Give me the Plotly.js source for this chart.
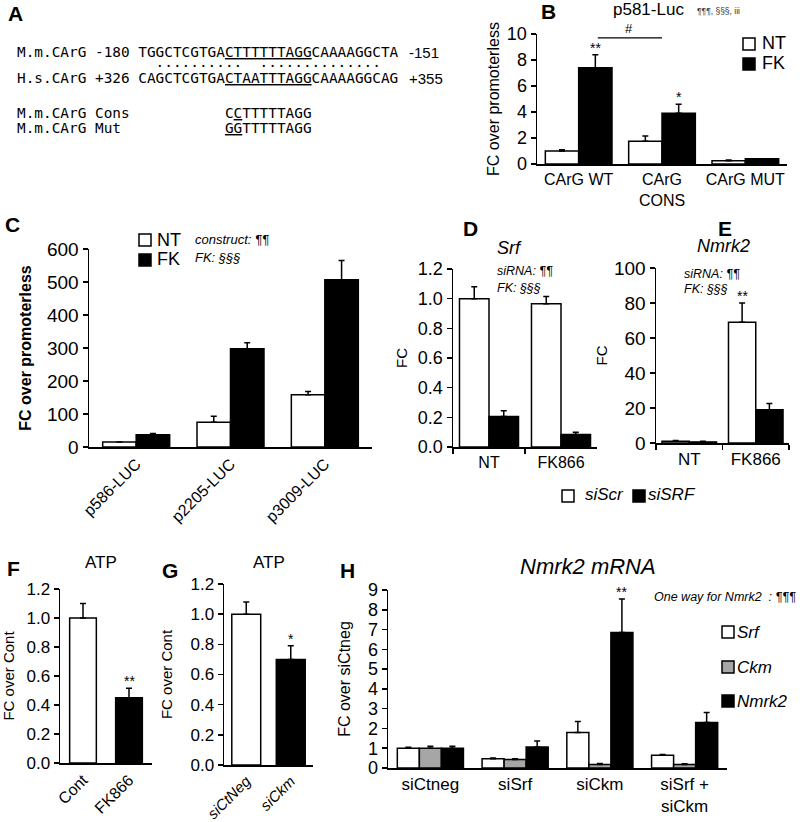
<!DOCTYPE html>
<html><head><meta charset="utf-8">
<script src="https://cdn.plot.ly/plotly-3.0.1.min.js"></script>
<style>html,body{margin:0;padding:0;background:#fff}</style>
</head><body><div id="chart" style="width:800px;height:822px"></div>
<script>
// ---------------- data ----------------
const bCats = ['CArG WT', 'CArG<br>CONS', 'CArG MUT'];
const bNT = [1.0, 1.75, 0.25];
const bNTerr = [0.1, 0.4, 0.05];
const bFK = [7.4, 3.9, 0.4];
const bFKerr = [1.0, 0.7, 0.0];

const cCats = ['p586-LUC', 'p2205-LUC', 'p3009-LUC'];
const cNT = [15, 75, 158];
const cNTerr = [0, 18, 10];
const cFK = [37, 298, 507];
const cFKerr = [4, 18, 58];

const dCats = ['NT', 'FK866'];
const dScr = [1.0, 0.965];
const dScrErr = [0.08, 0.05];
const dSRF = [0.205, 0.085];
const dSRFerr = [0.04, 0.015];

const eCats = ['NT', 'FK866'];
const eScr = [1.0, 69];
const eScrErr = [0.4, 11];
const eSRF = [0.6, 19];
const eSRFerr = [0.4, 3.5];

const fCats = ['Cont', 'FK866'];
const fVals = [1.0, 0.45];
const fErr = [0.1, 0.065];

const gCats = ['siCtNeg', 'siCkm'];
const gVals = [1.0, 0.70];
const gErr = [0.08, 0.09];

const hCats = ['siCtneg', 'siSrf', 'siCkm', 'siSrf +<br>siCkm'];
const hSrf = [1.0, 0.47, 1.8, 0.65];
const hSrfErr = [0.05, 0.04, 0.55, 0.03];
const hCkm = [1.0, 0.43, 0.18, 0.18];
const hCkmErr = [0.1, 0.04, 0.05, 0.04];
const hNmrk2 = [1.0, 1.06, 6.85, 2.3];
const hNmrk2Err = [0.1, 0.3, 1.7, 0.5];

// ---------------- helpers ----------------
const FONT = 'Liberation Sans, Arial, Helvetica, sans-serif';
const MONO = 'DejaVu Sans Mono, monospace';
const W = 800, H = 822;
const px = x => x / W;
const py = y => 1 - y / H;
const sp = n => '\u00A0'.repeat(n);

function bar(xa, ya, cats, vals, errs, name, fill, offset, width) {
  return {
    type: 'bar', xaxis: xa, yaxis: ya, x: cats, y: vals, name: name,
    offset: offset, width: width, showlegend: false,
    marker: {color: fill, line: {color: '#000', width: 1.5}},
    error_y: {type: 'data', symmetric: false, array: errs, arrayminus: errs.map(() => 0),
              color: '#000', thickness: 1.5, width: 3}
  };
}

const tf = s => ({family: FONT, size: s, color: '#000'});
function xax(x0, x1, anchor, n, fs, extra) {
  return Object.assign({
    domain: [px(x0), px(x1)], anchor: anchor, type: 'category', range: [-0.5, n - 0.5],
    showline: true, linecolor: '#000', linewidth: 1.5, showgrid: false, zeroline: false,
    ticks: '', tickfont: tf(fs), fixedrange: true
  }, extra || {});
}
function yax(yTop, yBot, anchor, range, dtick, fs, title, tsize, standoff, extra) {
  return Object.assign({
    domain: [py(yBot), py(yTop)], anchor: anchor, range: range, dtick: dtick,
    showline: true, linecolor: '#000', linewidth: 1.5, showgrid: false, zeroline: false,
    ticks: 'outside', ticklen: 5, tickwidth: 1.5, tickcolor: '#000', tickfont: tf(fs),
    title: {text: title, font: tf(tsize), standoff: standoff},
    fixedrange: true
  }, extra || {});
}
function note(text, x, y, size, opts) {
  return Object.assign({
    text: text, x: px(x), y: py(y), xref: 'paper', yref: 'paper', showarrow: false,
    xanchor: 'center', yanchor: 'middle', font: tf(size)
  }, opts || {});
}
function star(text, xa, ya, x, y) {
  return {text: text, x: x, y: y, xref: xa, yref: ya, showarrow: false, xanchor: 'center',
          yanchor: 'bottom', yshift: -3, font: tf(14)};
}
// legend key square + label (drawn in paper space)
function key(x0, yc, fill) {
  return {type: 'rect', xref: 'paper', yref: 'paper', x0: px(x0), x1: px(x0 + 12),
          y0: py(yc + 6), y1: py(yc - 6), fillcolor: fill, line: {color: '#000', width: 1.5}};
}
function keyLabel(text, x, yc, size) {
  return note(text, x, yc, size, {xanchor: 'left'});
}

// ---------------- traces ----------------
const traces = [
  bar('x', 'y', bCats, bNT, bNTerr, 'NT', '#fff', -0.4, 0.4),
  bar('x', 'y', bCats, bFK, bFKerr, 'FK', '#000', 0, 0.4),
  bar('x2', 'y2', cCats, cNT, cNTerr, 'NT', '#fff', -0.355, 0.355),
  bar('x2', 'y2', cCats, cFK, cFKerr, 'FK', '#000', 0, 0.355),
  bar('x3', 'y3', dCats, dScr, dScrErr, 'siScr', '#fff', -0.41, 0.41),
  bar('x3', 'y3', dCats, dSRF, dSRFerr, 'siSRF', '#000', 0, 0.41),
  bar('x4', 'y4', eCats, eScr, eScrErr, 'siScr', '#fff', -0.41, 0.41),
  bar('x4', 'y4', eCats, eSRF, eSRFerr, 'siSRF', '#000', 0, 0.41),
  bar('x5', 'y5', fCats, fVals, fErr, 'ATP', ['#fff', '#000'], -0.29, 0.58),
  bar('x6', 'y6', gCats, gVals, gErr, 'ATP', ['#fff', '#000'], -0.325, 0.65),
  bar('x7', 'y7', hCats, hSrf, hSrfErr, 'Srf', '#fff', -0.39, 0.26),
  bar('x7', 'y7', hCats, hCkm, hCkmErr, 'Ckm', '#a6a6a6', -0.13, 0.26),
  bar('x7', 'y7', hCats, hNmrk2, hNmrk2Err, 'Nmrk2', '#000', 0.13, 0.26)
];

// ---------------- annotations ----------------
const monoFont = {family: MONO, size: 14.4, color: '#000'};
function mono(text, y) {
  return {text: text, x: px(15), y: py(y), xref: 'paper', yref: 'paper', showarrow: false,
          xanchor: 'left', yanchor: 'middle', font: monoFont};
}
const annotations = [
  // Panel A
  note('<b>A</b>', 6, 14, 21, {xanchor: 'left'}),
  mono('M.m.CArG' + sp(1) + '-180' + sp(1) + 'TGGCTCGTGA<u>CTTTTTTAGG</u>CAAAAGGCTA', 52),
  mono(sp(16) + '..........' + sp(2) + '..............', 62),
  mono('H.s.CArG' + sp(1) + '+326' + sp(1) + 'CAGCTCGTGA<u>CTAATTTAGG</u>CAAAAGGCAG', 78),
  mono('M.m.CArG' + sp(1) + 'Cons' + sp(11) + 'C<u>C</u>TTTTTAGG', 113),
  mono('M.m.CArG' + sp(1) + 'Mut' + sp(12) + '<u>GG</u>TTTTTAGG', 128),
  note('-151', 407, 52, 15, {xanchor: 'left'}),
  note('+355', 407, 78, 15, {xanchor: 'left'}),
  // Panel B
  note('<b>B</b>', 548, 11, 21),
  note('p581-Luc', 648, 10, 17),
  note('¶¶¶, §§§, iii', 718, 11, 8.5, {font: {family: FONT, size: 8.5, color: '#333'}}),
  star('**', 'x', 'y', 0.2, bFK[0] + bFKerr[0]),
  star('*', 'x', 'y', 1.2, bFK[1] + bFKerr[1]),
  {text: '#', x: 0.6, y: 9.7, xref: 'x', yref: 'y', showarrow: false, yanchor: 'bottom',
   font: tf(13)},
  keyLabel('NT', 760, 43, 18),
  keyLabel('FK', 760, 63, 18),
  // Panel C
  note('<b>C</b>', 12, 225, 21),
  note('<i>construct: ¶¶</i>', 193, 240, 13, {xanchor: 'left'}),
  note('<i>FK: §§§</i>', 193, 258, 13, {xanchor: 'left'}),
  keyLabel('NT', 155, 240, 18),
  keyLabel('FK', 155, 259, 18),
  // Panel D
  note('<b>D</b>', 470, 228, 21),
  note('<i>Srf</i>', 510, 248, 18),
  note('<i>siRNA: ¶¶</i>', 495, 271, 12.5, {xanchor: 'left'}),
  note('<i>FK: §§§</i>', 495, 288, 12.5, {xanchor: 'left'}),
  // Panel E
  note('<b>E</b>', 725, 228, 21),
  note('<i>Nmrk2</i>', 723, 246, 18),
  note('<i>siRNA: ¶¶</i>', 682, 274, 12.5, {xanchor: 'left'}),
  note('<i>FK: §§§</i>', 682, 289, 12.5, {xanchor: 'left'}),
  star('**', 'x4', 'y4', 0.795, eScr[1] + eScrErr[1]),
  keyLabel('<i>siScr</i>', 583, 494, 17),
  keyLabel('<i>siSRF</i>', 646, 494, 17),
  // Panel F
  note('<b>F</b>', 13, 568, 21),
  note('ATP', 101, 562, 17),
  star('**', 'x5', 'y5', 1, fVals[1] + fErr[1]),
  // Panel G
  note('<b>G</b>', 170, 570, 21),
  note('ATP', 269, 562, 17),
  star('*', 'x6', 'y6', 1, gVals[1] + gErr[1]),
  // Panel H
  note('<b>H</b>', 347, 570, 21),
  note('<i>Nmrk2 mRNA</i>', 588, 566, 22),
  note('<i>One way for Nmrk2' + sp(2) + ': ¶¶¶</i>', 652, 597, 12.5, {xanchor: 'left'}),
  star('**', 'x7', 'y7', 2.26, hNmrk2[2] + hNmrk2Err[2]),
  keyLabel('<i>Srf</i>', 735, 632, 17),
  keyLabel('<i>Ckm</i>', 735, 667, 17),
  keyLabel('<i>Nmrk2</i>', 735, 701, 17)
];

const shapes = [
  {type: 'line', xref: 'x', yref: 'y', x0: 0.23, x1: 1.0, y0: 9.7, y1: 9.7,
   line: {color: '#000', width: 1.2}},
  key(743, 44, '#fff'), key(743, 64, '#000'),
  key(139, 240, '#fff'), key(139, 260, '#000'),
  key(562, 496, '#fff'), key(633, 496, '#000'),
  key(722, 632, '#fff'), key(722, 667, '#a6a6a6'), key(722, 701, '#000')
];

// ---------------- layout ----------------
const layout = {
  width: W, height: H, margin: {l: 0, r: 0, t: 0, b: 0},
  paper_bgcolor: '#fff', plot_bgcolor: '#fff', showlegend: false,
  barmode: 'overlay', font: {family: FONT, color: '#000'},
  // B
  xaxis: xax(537, 787, 'y', 3, 16),
  yaxis: yax(34, 164, 'x', [0, 10], 2, 18, 'FC over promoterless', 16, 3),
  // C
  xaxis2: xax(89, 372, 'y2', 3, 16, {tickangle: -45}),
  yaxis2: yax(249, 447, 'x2', [0, 600], 100, 19, '<b>FC over promoterless</b>', 16, 11),
  // D
  xaxis3: xax(453, 597, 'y3', 2, 16, {ticks: 'outside', tickson: 'boundaries', ticklen: 5, tickwidth: 1.5, tickcolor: '#000'}),
  yaxis3: yax(269, 447, 'x3', [0, 1.2], 0.2, 18, 'FC', 15, 6, {tickformat: '.1f'}),
  // E
  xaxis4: xax(656, 789, 'y4', 2, 17, {ticks: 'outside', tickson: 'boundaries', ticklen: 5, tickwidth: 1.5, tickcolor: '#000'}),
  yaxis4: yax(268, 443, 'x4', [0, 100], 20, 19, 'FC', 15, 2),
  // F
  xaxis5: xax(60, 152, 'y5', 2, 16, {tickangle: -45}),
  yaxis5: yax(589, 763, 'x5', [0, 1.2], 0.2, 17, 'FC over Cont', 15, 10, {tickformat: '.1f'}),
  // G
  xaxis6: xax(224, 313, 'y6', 2, 15, {tickangle: -45, tickmode: 'array', tickvals: gCats,
                                      ticktext: gCats.map(c => '<i>' + c + '</i>')}),
  yaxis6: yax(584, 765, 'x6', [0, 1.2], 0.2, 17, 'FC over Cont', 15, 14, {tickformat: '.1f'}),
  // H
  xaxis7: xax(388, 727, 'y7', 4, 17),
  yaxis7: yax(590, 768, 'x7', [0, 9], 1, 18, 'FC over siCtneg', 16, 13),
  annotations: annotations,
  shapes: shapes
};

Plotly.newPlot('chart', traces, layout, {displayModeBar: false, staticPlot: true});
</script></body></html>
